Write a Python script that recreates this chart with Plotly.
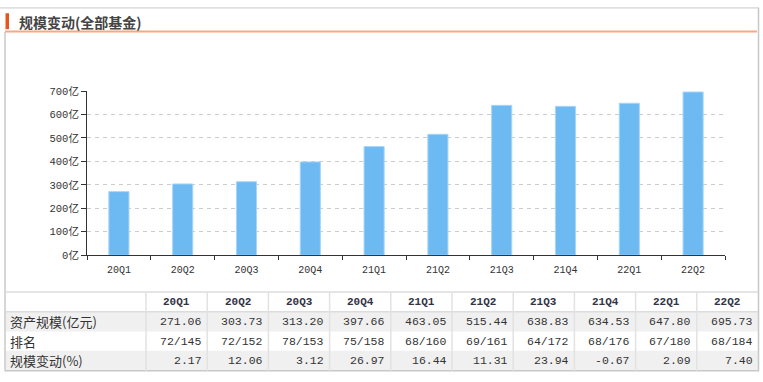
import plotly.graph_objects as go

W, H = 763, 382

quarters = ["20Q1", "20Q2", "20Q3", "20Q4", "21Q1", "21Q2", "21Q3", "21Q4", "22Q1", "22Q2"]
asset_size = [271.06, 303.73, 313.20, 397.66, 463.05, 515.44, 638.83, 634.53, 647.80, 695.73]
rank = ["72/145", "72/152", "78/153", "75/158", "68/160", "69/161", "64/172", "68/176", "67/180", "68/184"]
change_pct = [2.17, 12.06, 3.12, 26.97, 16.44, 11.31, 23.94, -0.67, 2.09, 7.40]
ytick_vals = [0, 100, 200, 300, 400, 500, 600, 700]
ytick_text = ["0亿", "100亿", "200亿", "300亿", "400亿", "500亿", "600亿", "700亿"]
row_labels = ["资产规模(亿元)", "排名", "规模变动(%)"]
title_text = "规模变动(全部基金)"


def px(x):
    return x / W


def py(y):
    return (H - y) / H


MONO = "Liberation Mono, Noto Sans CJK SC, monospace"
CJK = "Noto Sans CJK SC, sans-serif"

fig = go.Figure()
fig.add_trace(go.Bar(
    x=quarters, y=asset_size,
    marker=dict(color="#6DB9F2", line=dict(color="#A6D5F8", width=1)),
    hoverinfo="x+y",
))

shapes = []
annotations = []

# outer frame
shapes.append(dict(type="line", xref="paper", yref="paper", x0=px(0), x1=px(759), y0=py(2), y1=py(2),
                   line=dict(color="#c8c8c8", width=1)))
shapes.append(dict(type="line", xref="paper", yref="paper", x0=px(758.5), x1=px(758.5), y0=py(2), y1=py(378),
                   line=dict(color="#c8c8c8", width=1.5)))
shapes.append(dict(type="line", xref="paper", yref="paper", x0=px(5), x1=px(5), y0=py(27), y1=py(378),
                   line=dict(color="#c8c8c8", width=1.5)))
shapes.append(dict(type="line", xref="paper", yref="paper", x0=px(5), x1=px(759), y0=py(377.5), y1=py(377.5),
                   line=dict(color="#c8c8c8", width=1.5)))
# title decorations
shapes.append(dict(type="rect", xref="paper", yref="paper", x0=px(5.5), x1=px(9), y0=py(7.5), y1=py(24),
                   fillcolor="#E8541E", line=dict(width=0)))
shapes.append(dict(type="line", xref="paper", yref="paper", x0=px(5), x1=px(757), y0=py(26.5), y1=py(26.5),
                   line=dict(color="#F9A97C", width=2)))
annotations.append(dict(xref="paper", yref="paper", x=px(17), y=py(17), xanchor="left", yanchor="middle",
                        text="<b>" + title_text + "</b>", showarrow=False,
                        font=dict(family="Noto Sans CJK SC", size=14, color="#444444")))

# table
col_edges = [5, 146] + [146 + 61.2 * (i + 1) for i in range(10)]
row_edges = [296, 316.5, 337, 357, 377.5]
for r in range(3):
    if r % 2 == 0:
        shapes.append(dict(type="rect", xref="paper", yref="paper", x0=px(5.5), x1=px(758),
                           y0=py(row_edges[r + 1]), y1=py(row_edges[r + 2]),
                           fillcolor="#f0f0f0", line=dict(width=0), layer="below"))
for yy in [296, 316.5]:
    shapes.append(dict(type="line", xref="paper", yref="paper", x0=px(5), x1=px(758), y0=py(yy), y1=py(yy),
                       line=dict(color="#dcdcdc", width=1.5)))
for xx in col_edges[1:-1]:
    shapes.append(dict(type="line", xref="paper", yref="paper", x0=px(xx), x1=px(xx), y0=py(296), y1=py(377.5),
                       line=dict(color="#e2e2e2", width=1.5)))

for i, q in enumerate(quarters):
    cx = (col_edges[i + 1] + col_edges[i + 2]) / 2
    annotations.append(dict(xref="paper", yref="paper", x=px(cx), y=py(306.5), xanchor="center",
                            yanchor="middle", text="<b>" + q + "</b>", showarrow=False,
                            font=dict(family=MONO, size=11, color="#333344")))
rows = [
    ["%.2f" % v for v in asset_size],
    rank,
    ["%.2f" % v for v in change_pct],
]
for r, vals in enumerate(rows):
    cy = (row_edges[r + 1] + row_edges[r + 2]) / 2
    annotations.append(dict(xref="paper", yref="paper", x=px(8), y=py(cy), xanchor="left", yanchor="middle",
                            text=row_labels[r], showarrow=False,
                            font=dict(family=CJK, size=13, color="#333333")))
    for i, v in enumerate(vals):
        annotations.append(dict(xref="paper", yref="paper", x=px(col_edges[i + 2] - 3.5), y=py(cy),
                                xanchor="right", yanchor="middle", text=v, showarrow=False,
                                font=dict(family=MONO, size=11.5, color="#333333")))

fig.update_layout(
    width=W, height=H,
    margin=dict(l=0, r=0, t=0, b=0),
    paper_bgcolor="white", plot_bgcolor="white",
    showlegend=False,
    bargap=0.685,
    shapes=shapes,
    annotations=annotations,
    xaxis=dict(
        domain=[px(87), px(725)], type="category",
        tickson="boundaries", ticks="outside", ticklen=4, tickcolor="#333333", tickwidth=1,
        showline=True, linecolor="#333333", linewidth=1,
        ticklabelstandoff=5,
        showgrid=False, tickfont=dict(family=MONO, size=10, color="#333333"),
    ),
    yaxis=dict(
        domain=[py(258), py(88)], range=[0, 700],
        tickvals=ytick_vals, ticktext=ytick_text,
        ticks="outside", ticklen=5, tickcolor="#333333", tickwidth=1,
        showline=True, linecolor="#333333", linewidth=1,
        showgrid=True, gridcolor="#cccccc", griddash="4px,4px", gridwidth=1,
        zeroline=False, tickfont=dict(family=MONO, size=10.5, color="#333333"),
    ),
)

fig.write_html(
    "out.html",
    config={"displayModeBar": False, "responsive": False},
    post_script="document.body.style.margin='0';document.body.style.overflow='hidden';",
)
